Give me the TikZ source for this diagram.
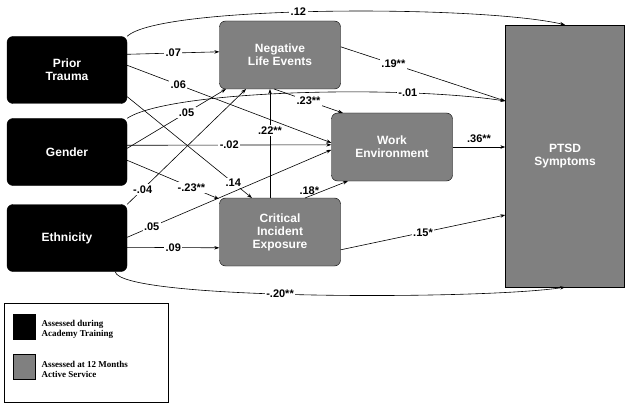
\documentclass[tikz,border=0pt]{standalone}
\usepackage{fontspec}
\setmainfont{Liberation Sans}
\newfontfamily\serifb{Liberation Serif}
\usetikzlibrary{arrows.meta}
\begin{document}
\begin{tikzpicture}[x=1pt,y=-1pt,
 blk/.style={draw=black,fill=black,rounded corners=6pt,minimum width=120pt,minimum height=67pt,text=white,font=\bfseries\fontsize{12}{13}\selectfont,align=center},
 gry/.style={draw=black,fill=gray!95!black!60,fill=gray,rounded corners=6pt,minimum width=121pt,minimum height=68pt,text=white,font=\bfseries\fontsize{12}{13}\selectfont,align=center},
 ar/.style={-{Stealth[length=5pt,width=3.5pt]},line width=0.6pt},
 lb/.style={fill=white,inner sep=1.5pt,font=\bfseries\fontsize{11}{12}\selectfont}]
\useasboundingbox (0,0) rectangle (629,409);
\node[blk] (pt) at (67,70) {Prior\\Trauma};
\node[blk] (ge) at (67,152) {Gender};
\node[blk] (et) at (67,238) {Ethnicity};
\node[gry] (nle) at (280,55) {Negative\\Life Events};
\node[gry] (we) at (392,147) {Work\\Environment};
\node[gry] (cie) at (280,232) {Critical\\Incident\\Exposure};
\node[draw=black,fill=gray,minimum width=119pt,minimum height=262pt,text=white,font=\bfseries\fontsize{12}{13}\selectfont,align=center] (ptsd) at (565,156) {PTSD\\Symptoms};
% edges
\draw[ar] (pt.north east) .. controls (160,5) and (480,5) .. node[lb,pos=0.45]{.12} (ptsd.north);
\draw[ar] ([yshift=-18pt]pt.north east) -- node[lb,pos=0.5]{.07} ([yshift=-31pt]nle.north west);
\draw[ar] ([yshift=-29pt]pt.north east) -- node[lb,pos=0.25]{.06} ([yshift=-30pt]we.north west);
\draw[ar] ([yshift=7pt]pt.south east) -- node[lb,pos=0.85]{.14} (252,198);
\draw[ar] (ge.north east) .. controls (170,90) and (400,85) .. node[lb,pos=0.75]{-.01} (ptsd.west|-0,101);
\draw[ar] ([yshift=-30pt]ge.north east) -- node[lb,pos=0.6]{.05} (226,89);
\draw[ar] ([yshift=-27pt]ge.north east) -- node[lb,pos=0.5]{-.02} ([yshift=-32pt]we.north west);
\draw[ar] ([yshift=-42pt]ge.north east) -- node[lb,pos=0.7]{-.23**} (219,199);
\draw[ar] (et.north east) -- node[lb,pos=0.13]{-.04} (246,89);
\draw[ar] ([yshift=-33pt]et.north east) -- node[lb,pos=0.12]{.05} ([yshift=-37pt]we.north west);
\draw[ar] ([yshift=-43pt]et.north east) -- node[lb,pos=0.5]{.09} ([yshift=-50pt]cie.north west);
\draw[ar] ([xshift=-12pt]et.south east) .. controls (120,300) and (480,300) .. node[lb,pos=0.45]{-.20**} (ptsd.south);
\draw[ar,{Stealth[length=5pt,width=3.5pt]}-] (270,89) -- node[lb,pos=0.38]{.22**} (270,198);
\draw[ar] (274,89) -- node[lb,pos=0.5]{.23**} (343,113);
\draw[ar] ([yshift=-26pt]nle.north east) -- node[lb,pos=0.32]{.19**} (ptsd.west|-0,101);
\draw[ar] (we.east) -- node[lb,above=3pt,fill=none]{.36**} (ptsd.west|-we.east);
\draw[ar] (305,198) -- node[lb,pos=0.1,above,fill=none]{.18*} (348,181);
\draw[ar] ([yshift=-52pt]cie.north east) -- node[lb,pos=0.5]{.15*} (ptsd.west|-0,215);
% legend
\draw[line width=0.5pt] (4,303) rectangle (168,402);
\node[fill=black,draw=black,minimum width=22pt,minimum height=25pt,inner sep=0] (k1) at (24,327) {};
\node[fill=gray,draw=black,minimum width=22pt,minimum height=25pt,inner sep=0] (k2) at (24,367) {};
\node[anchor=west,align=left,font=\serifb\bfseries\fontsize{9}{10}\selectfont] at (38,329) {Assessed during\\Academy Training};
\node[anchor=west,align=left,font=\serifb\bfseries\fontsize{9}{10}\selectfont] at (38,369) {Assessed at 12 Months\\Active Service};
\end{tikzpicture}
\end{document}
